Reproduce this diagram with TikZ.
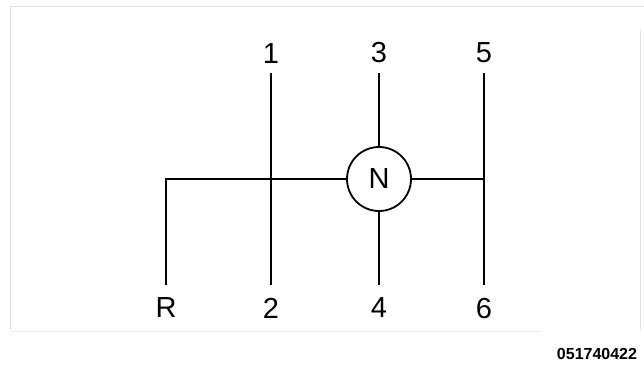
\documentclass[tikz,border=0pt]{standalone}
\usepackage{fontspec}
\setmainfont{Liberation Sans}
\definecolor{frameGray}{RGB}{225, 225, 225}
\usetikzlibrary{positioning}

\begin{document}
\begin{tikzpicture}[x=1pt, y=-1pt, line width=2pt,
    gearlbl/.style={font=\fontsize{29}{29}\selectfont, inner sep=0pt},
    frameline/.style={draw=frameGray, line width=1pt}]
        \useasboundingbox (0,0) rectangle (644,368);
        \draw[frameline] (10,6) -- (644,6);
        \draw[frameline] (10,6) -- (10,330);
        \draw[frameline] (640,30) -- (640,330);
        \draw[frameline, draw=frameGray!60] (12,331) -- (540,331);

        \node[draw, circle, minimum size=64pt, line width=1.8pt, gearlbl] (N) at (379,179) {N};

        \coordinate (corner) at (166,179);
        \coordinate (rEnd) at (166,285);
        \coordinate (t1) at (271,73);
        \coordinate (b2) at (271,285);
        \coordinate (t3) at (379,73);
        \coordinate (b4) at (379,285);
        \coordinate (t5) at (484,73);
        \coordinate (b6) at (484,285);
        \coordinate (joint) at (484,179);

        \node[gearlbl, above=9pt of t1] (l1) {1};
        \node[gearlbl, above=9pt of t3] (l3) {3};
        \node[gearlbl, above=9pt of t5] (l5) {5};
        \node[gearlbl, below=12pt of rEnd] (lR) {R};
        \node[gearlbl, below=12pt of b2] (l2) {2};
        \node[gearlbl, below=12pt of b4] (l4) {4};
        \node[gearlbl, below=12pt of b6] (l6) {6};

        \draw (rEnd) -- (corner) -- (N);
        \draw (N) -- (joint);
        \draw (t1) -- (b2);
        \draw (t3) -- (N);
        \draw (N) -- (b4);
        \draw (t5) -- (b6);

        \node[font=\fontsize{16}{16}\selectfont\bfseries, inner sep=0pt] (code) at (597,354) {051740422};
      \end{tikzpicture}
\end{document}
